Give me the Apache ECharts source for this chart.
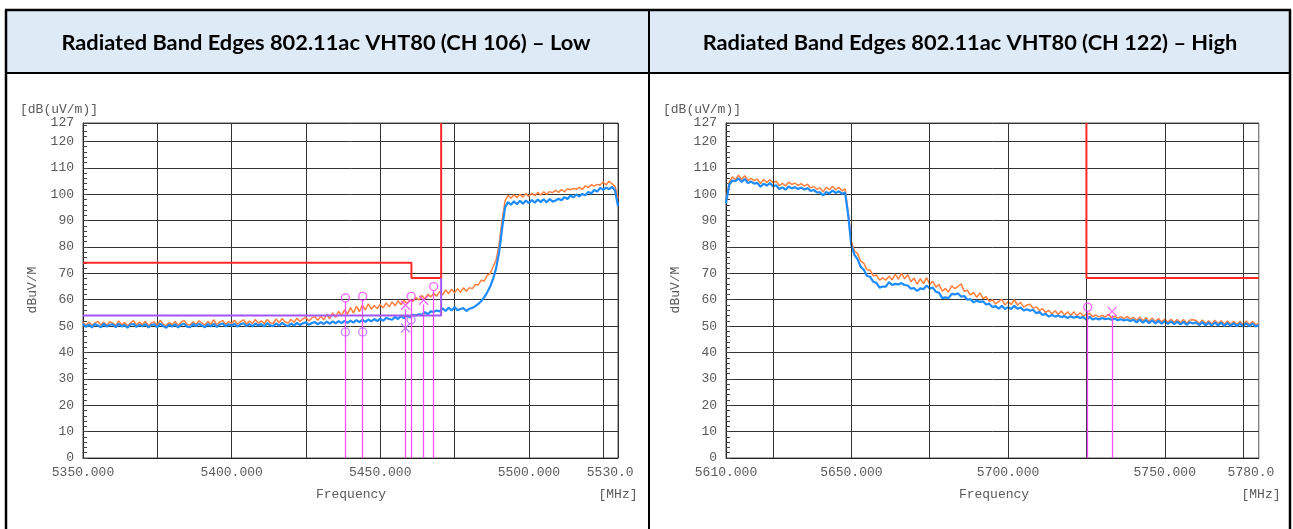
<!DOCTYPE html>
<html>
<head>
<meta charset="utf-8">
<script src="https://cdn.jsdelivr.net/npm/echarts@6/dist/echarts.min.js"></script>
<style>
html,body{margin:0;padding:0;background:#fff;}
#c{width:1293px;height:529px;}
</style>
</head>
<body>
<div id="c"></div>
<script>
// ---------- DATA ----------
const titles = ['Radiated Band Edges 802.11ac VHT80 (CH 106) \u2013 Low', 'Radiated Band Edges 802.11ac VHT80 (CH 122) \u2013 High'];
const lowStart = 5350, highStart = 5610, stepMHz = 1;
const yTicksMax = 127;

// Low band: peak (orange) and average (blue) traces, 1 MHz steps from 5350 MHz
const lowPeak = [
51.3,50.3,51.6,50.2,51.2,51.8,50.4,51.5,50.3,51.7,
51.1,50.2,52.0,50.5,51.4,50.1,51.2,52.1,50.4,51.5,
50.5,51.8,50.2,51.2,51.6,50.3,52.3,50.6,50.2,51.4,
50.5,51.7,50.3,51.4,52.2,50.6,50.4,51.6,50.6,52.0,
51.2,50.4,51.8,50.7,52.4,50.5,51.6,52.1,50.7,51.7,
51.0,52.2,50.7,51.7,52.4,50.8,51.9,51.0,52.5,51.1,
52.0,50.9,52.5,51.3,51.0,52.7,51.3,52.9,51.6,51.2,
52.5,51.4,53.0,51.7,52.8,53.3,51.9,53.1,53.6,52.2,
53.8,52.4,54.4,52.8,55.0,53.3,55.6,54.0,56.2,54.6,
57.0,54.9,57.6,55.5,58.0,56.1,58.4,56.4,57.8,56.7,
58.2,56.9,58.8,57.3,59.2,57.7,59.6,58.2,59.8,58.5,
60.1,59.4,60.8,59.9,61.6,60.3,62.0,61.1,62.4,61.3,
63.2,61.8,63.7,62.3,64.0,62.6,64.2,62.8,64.5,63.2,
64.6,64.2,65.8,65.6,67.4,67.1,69.2,70.0,72.6,75.0,
81.0,90.0,97.5,99.6,98.5,99.8,98.7,100.0,98.9,100.2,
99.2,100.4,99.4,100.7,99.7,100.9,99.9,101.0,100.6,101.5,
100.7,101.8,100.9,102.1,101.7,102.2,101.9,102.6,101.8,103.2,
102.5,103.6,103.1,103.7,103.5,104.6,103.5,104.9,103.9,103.0,
98.5];
const lowAvg = [
50.9,49.7,50.6,49.5,50.8,50.2,49.6,50.9,49.8,50.5,
50.7,49.6,50.9,49.9,50.4,49.4,50.6,50.8,49.7,50.5,
49.9,50.8,49.5,50.4,50.7,49.6,50.9,50.0,49.4,50.6,
49.8,50.7,49.5,50.5,50.9,49.8,49.6,50.8,50.0,50.9,
50.2,49.6,50.8,49.9,50.9,49.7,50.6,51.0,49.9,50.7,
50.1,50.9,49.8,50.7,51.1,50.0,50.8,49.9,51.0,50.2,
50.8,49.9,51.1,50.3,50.0,51.0,50.2,51.2,50.4,50.0,
51.0,50.2,51.2,50.4,51.1,51.4,50.5,51.2,51.5,50.7,
51.5,50.8,51.7,50.9,51.8,51.0,51.9,51.1,52.0,51.2,
52.1,51.3,52.3,51.5,52.4,51.6,52.5,51.8,52.7,51.9,
52.8,52.0,53.1,52.7,52.4,53.5,52.7,53.8,53.0,54.0,
53.3,54.3,54.0,54.5,54.3,55.3,54.5,55.6,55.4,55.9,
55.6,56.8,55.7,57.0,55.9,57.2,56.0,56.5,56.8,55.7,
56.6,56.9,57.6,58.4,59.5,61.0,62.8,65.0,68.0,72.0,
78.0,87.0,95.0,97.0,96.0,97.3,96.2,97.5,96.4,97.6,
96.6,97.8,96.8,98.0,97.0,98.1,96.9,98.2,97.2,97.6,
98.3,97.7,98.9,98.2,99.5,98.8,99.9,99.2,100.1,99.6,
100.9,100.3,101.6,101.0,102.4,101.7,102.5,101.9,102.8,101.5,
95.5];

// High band traces, 1 MHz steps from 5610 MHz
const highPeak = [
97.0,104.5,106.6,105.6,107.2,105.6,107.0,105.2,106.0,105.2,
105.8,104.0,105.6,104.5,105.5,104.4,104.9,103.3,104.1,103.1,
104.6,103.7,104.2,103.3,104.0,103.1,103.8,102.4,103.0,101.9,
102.4,100.9,102.6,101.7,103.0,101.7,102.6,101.3,102.0,93.0,
82.0,78.6,77.4,74.6,73.8,71.4,71.2,69.0,69.4,67.4,
68.3,67.4,68.9,67.5,69.7,67.8,70.0,67.9,69.5,66.8,
68.2,65.9,68.0,66.1,68.4,65.8,67.0,64.8,65.8,63.2,
64.3,62.9,65.3,64.2,65.0,66.0,63.2,63.6,61.8,62.8,
60.9,62.6,60.4,61.2,59.4,60.0,58.4,59.3,60.2,58.0,
59.2,58.2,60.0,58.0,59.0,57.2,58.0,58.3,56.8,57.3,
55.9,56.6,55.2,56.0,54.6,55.8,54.4,55.7,54.2,55.4,
54.1,55.4,53.9,55.1,53.8,54.6,54.8,53.6,54.2,53.5,
54.1,53.4,54.5,53.2,53.8,53.0,53.6,52.8,53.7,52.7,
53.3,52.2,53.4,52.0,53.2,51.8,53.1,51.7,52.9,51.6,
52.7,51.5,52.6,51.4,52.5,51.3,52.5,51.1,52.3,52.4,
52.1,51.0,52.3,50.9,52.0,50.8,52.2,50.9,52.0,50.7,
51.9,50.7,51.8,50.6,51.7,50.5,51.9,50.6,51.7,50.5,
51.0];
const highAvg = [
96.5,103.5,105.2,104.9,106.0,104.6,105.8,104.2,104.8,104.0,
104.3,102.8,104.0,103.3,104.2,103.0,103.4,102.0,102.6,101.7,
102.9,102.2,102.7,102.0,102.5,101.8,102.3,101.2,101.6,100.7,
100.7,99.5,100.8,100.3,101.4,100.5,101.1,100.2,100.6,92.0,
80.5,77.0,75.3,72.4,71.3,69.0,68.7,66.8,66.4,64.6,
65.0,65.0,66.7,65.6,66.0,65.8,66.3,65.6,65.4,64.2,
64.4,63.3,64.3,64.0,65.4,64.3,64.6,63.0,62.6,60.6,
60.9,60.6,62.2,62.0,62.4,61.2,61.4,60.0,60.2,59.0,
59.6,59.2,59.4,58.2,58.5,57.2,57.6,56.6,57.7,56.5,
57.2,56.5,57.7,56.6,57.0,55.9,56.4,55.8,56.2,54.9,
55.4,54.2,54.7,53.6,54.2,53.6,54.0,53.4,53.8,53.1,
53.7,53.2,53.6,53.1,53.4,52.4,53.5,52.5,53.0,52.5,
53.1,52.6,52.9,52.4,52.8,52.2,52.6,52.1,52.5,51.9,
52.4,51.4,52.5,51.3,52.3,51.1,52.2,51.0,52.0,50.9,
51.9,50.8,51.8,50.7,51.7,50.6,51.6,50.5,51.5,51.0,
51.4,50.4,51.5,50.3,51.3,50.2,51.4,50.3,51.3,50.1,
51.2,50.1,51.1,50.0,51.0,49.9,51.1,50.0,51.0,49.9,
50.4];

// Limit lines [MHz, dBuV/m]
const lowPeakLimit = [[5350,74],[5460.5,74],[5460.5,68.2],[5470.5,68.2],[5470.5,127]];
const lowAvgLimit = [[5350,54],[5470.5,54],[5470.5,68.2]];
const highPeakLimit = [[5725,127],[5725,68.2],[5780,68.2]];

// Markers [MHz, dBuV/m]
const lowMarkCircle = [[5438.3,60.7],[5444.1,61.3],[5460.4,61.3],[5468.0,65.0]];
const lowMarkCross = [[5458.5,57.9],[5464.6,59.8]];
const lowMarkCircleLow = [[5438.3,47.8],[5444.1,47.8],[5460.4,52.4]];
const lowMarkCrossLow = [[5458.5,49.3]];
const highMarkCircle = [[5725.4,57.2]];
const highMarkCross = [[5733.2,55.6]];

const highGridLines = [5625,5650,5675,5700,5725,5750,5775];

// ---------- BUILD ----------
const toPairs = (arr, start) => arr.map((v, i) => [start + i * stepMHz, v]);
const MONO = "'Liberation Mono', 'DejaVu Sans Mono', monospace";
const LABEL_COLOR = '#5a5a5a';
const GRID_COLOR = '#333';
const crossPath = 'path://M0,0L10,10M10,0L0,10';

function yAxisFor(gi) {
  return {
    type: 'value', gridIndex: gi, min: 0, max: yTicksMax, interval: 10,
    axisLine: {show: true, lineStyle: {color: '#222', width: 1}},
    axisTick: {show: true, inside: true, length: 5, lineStyle: {color: '#444'}},
    minorTick: {show: true, splitNumber: 5, length: 4, lineStyle: {color: '#444'}},
    splitLine: {show: true, lineStyle: {color: GRID_COLOR, width: 1}},
    axisLabel: {fontFamily: MONO, fontSize: 13, color: LABEL_COLOR, margin: 9}
  };
}

const option = {
  animation: false,
  backgroundColor: '#fff',
  grid: [
    {left: 83, top: 123, width: 535, height: 335, show: true, borderColor: '#555', borderWidth: 1},
    {left: 726, top: 123, width: 536, height: 335, show: true, borderColor: '#555', borderWidth: 1}
  ],
  xAxis: [
    {type: 'value', gridIndex: 0, min: 5350, max: 5530, interval: 25,
     axisLine: {lineStyle: {color: '#222'}}, axisTick: {show: false},
     splitLine: {show: true, lineStyle: {color: GRID_COLOR, width: 1}},
     axisLabel: {fontFamily: MONO, fontSize: 13, color: LABEL_COLOR, margin: 8,
       formatter: v => v === 5530 ? '5530.0  ' : ((v - 5350) % 50 === 0 ? v.toFixed(3) : '')}},
    {type: 'value', gridIndex: 1, min: 5610, max: 5780, interval: 10,
     axisLine: {lineStyle: {color: '#222'}}, axisTick: {show: false},
     splitLine: {show: false},
     axisLabel: {fontFamily: MONO, fontSize: 13, color: LABEL_COLOR, margin: 8,
       formatter: v => v === 5610 ? '5610.000' : (v === 5780 ? '5780.0  ' : (v % 50 === 0 ? v.toFixed(3) : ''))}}
  ],
  yAxis: [yAxisFor(0), yAxisFor(1)],
  series: [
    // grid verticals for the high chart
    {type: 'line', xAxisIndex: 1, yAxisIndex: 1, data: [[5610, 0]], symbol: 'none', lineStyle: {opacity: 0}, z: 1,
     markLine: {silent: true, symbol: ['none', 'none'], label: {show: false}, animation: false,
       lineStyle: {color: GRID_COLOR, width: 1, type: 'solid'},
       data: highGridLines.map(v => ({xAxis: v}))}},
    // low chart traces
    {type: 'line', xAxisIndex: 0, yAxisIndex: 0, data: toPairs(lowPeak, lowStart), symbol: 'none',
     lineStyle: {color: '#ff7f3f', width: 1.5}, z: 3},
    {type: 'line', xAxisIndex: 0, yAxisIndex: 0, data: toPairs(lowAvg, lowStart), symbol: 'none',
     lineStyle: {color: '#1e8cff', width: 2.2}, z: 4},
    {type: 'line', xAxisIndex: 0, yAxisIndex: 0, data: lowPeakLimit, symbol: 'none',
     lineStyle: {color: '#ff2a2a', width: 2}, z: 5},
    {type: 'line', xAxisIndex: 0, yAxisIndex: 0, data: lowAvgLimit, symbol: 'none',
     lineStyle: {color: '#a355f5', width: 2}, z: 5},
    {type: 'scatter', xAxisIndex: 0, yAxisIndex: 0, data: lowMarkCircle, symbol: 'circle', symbolSize: 8,
     itemStyle: {color: 'rgba(0,0,0,0)', borderColor: '#ff3cff', borderWidth: 1.3}, z: 7,
     markLine: {silent: true, symbol: ['none', 'none'], label: {show: false}, animation: false,
       lineStyle: {color: '#ff4cff', width: 1.3, type: 'solid'},
       data: lowMarkCircle.concat(lowMarkCross).map(p => [{coord: [p[0], 0]}, {coord: [p[0], p[1] - 1.5]}])}},
    {type: 'scatter', xAxisIndex: 0, yAxisIndex: 0, data: lowMarkCross, symbol: crossPath, symbolSize: 9,
     itemStyle: {color: 'rgba(0,0,0,0)', borderColor: '#ff3cff', borderWidth: 1.3}, z: 7},
    {type: 'scatter', xAxisIndex: 0, yAxisIndex: 0, data: lowMarkCircleLow, symbol: 'circle', symbolSize: 8,
     itemStyle: {color: 'rgba(0,0,0,0)', borderColor: '#b266ff', borderWidth: 1.3}, z: 7},
    {type: 'scatter', xAxisIndex: 0, yAxisIndex: 0, data: lowMarkCrossLow, symbol: crossPath, symbolSize: 9,
     itemStyle: {color: 'rgba(0,0,0,0)', borderColor: '#b266ff', borderWidth: 1.3}, z: 7},
    // high chart traces
    {type: 'line', xAxisIndex: 1, yAxisIndex: 1, data: toPairs(highPeak, highStart), symbol: 'none',
     lineStyle: {color: '#ff7f3f', width: 1.5}, z: 3},
    {type: 'line', xAxisIndex: 1, yAxisIndex: 1, data: toPairs(highAvg, highStart), symbol: 'none',
     lineStyle: {color: '#1e8cff', width: 2.2}, z: 4},
    {type: 'line', xAxisIndex: 1, yAxisIndex: 1, data: highPeakLimit, symbol: 'none',
     lineStyle: {color: '#ff2a2a', width: 2}, z: 5},
    {type: 'scatter', xAxisIndex: 1, yAxisIndex: 1, data: highMarkCircle, symbol: 'circle', symbolSize: 8,
     itemStyle: {color: 'rgba(0,0,0,0)', borderColor: '#ff3cff', borderWidth: 1.3}, z: 7,
     markLine: {silent: true, symbol: ['none', 'none'], label: {show: false}, animation: false,
       lineStyle: {color: '#ff4cff', width: 1.3, type: 'solid'},
       data: highMarkCircle.concat(highMarkCross).map(p => [{coord: [p[0], 0]}, {coord: [p[0], p[1] - 1.5]}])}},
    {type: 'scatter', xAxisIndex: 1, yAxisIndex: 1, data: highMarkCross, symbol: crossPath, symbolSize: 9,
     itemStyle: {color: 'rgba(0,0,0,0)', borderColor: '#ff3cff', borderWidth: 1.3}, z: 7}
  ],
  graphic: [
    {type: 'rect', z: -10, shape: {x: 6, y: 10, width: 1284, height: 63}, style: {fill: '#deeaf6'}},
    {type: 'line', z: 100, shape: {x1: 5, y1: 10, x2: 1291, y2: 10}, style: {stroke: '#000', lineWidth: 2.5}},
    {type: 'line', z: 100, shape: {x1: 6, y1: 10, x2: 6, y2: 529}, style: {stroke: '#000', lineWidth: 2.5}},
    {type: 'line', z: 100, shape: {x1: 1290, y1: 10, x2: 1290, y2: 529}, style: {stroke: '#000', lineWidth: 2.5}},
    {type: 'line', z: 100, shape: {x1: 649, y1: 10, x2: 649, y2: 529}, style: {stroke: '#000', lineWidth: 2}},
    {type: 'line', z: 100, shape: {x1: 6, y1: 73, x2: 1290, y2: 73}, style: {stroke: '#000', lineWidth: 2}},
    {type: 'text', z: 100, x: 326, y: 43, style: {text: titles[0], font: 'bold 21.8px Lato', fill: '#000',
      align: 'center', verticalAlign: 'middle', textAlign: 'center', textVerticalAlign: 'middle'}},
    {type: 'text', z: 100, x: 970, y: 43, style: {text: titles[1], font: 'bold 21.8px Lato', fill: '#000',
      align: 'center', verticalAlign: 'middle', textAlign: 'center', textVerticalAlign: 'middle'}},
    // left chart texts
    {type: 'text', x: 20, y: 110, style: {text: '[dB(uV/m)]', font: "13px 'Liberation Mono'", fill: LABEL_COLOR,
      align: 'left', verticalAlign: 'middle', textAlign: 'left', textVerticalAlign: 'middle'}},
    {type: 'text', x: 33, y: 290, rotation: Math.PI / 2, style: {text: 'dBuV/M', font: "13px 'Liberation Mono'", fill: LABEL_COLOR,
      align: 'center', verticalAlign: 'middle', textAlign: 'center', textVerticalAlign: 'middle'}},
    {type: 'text', x: 351, y: 495, style: {text: 'Frequency', font: "13px 'Liberation Mono'", fill: LABEL_COLOR,
      align: 'center', verticalAlign: 'middle', textAlign: 'center', textVerticalAlign: 'middle'}},
    {type: 'text', x: 618, y: 495, style: {text: '[MHz]', font: "13px 'Liberation Mono'", fill: LABEL_COLOR,
      align: 'center', verticalAlign: 'middle', textAlign: 'center', textVerticalAlign: 'middle'}},
    // right chart texts
    {type: 'text', x: 663, y: 110, style: {text: '[dB(uV/m)]', font: "13px 'Liberation Mono'", fill: LABEL_COLOR,
      align: 'left', verticalAlign: 'middle', textAlign: 'left', textVerticalAlign: 'middle'}},
    {type: 'text', x: 676, y: 290, rotation: Math.PI / 2, style: {text: 'dBuV/M', font: "13px 'Liberation Mono'", fill: LABEL_COLOR,
      align: 'center', verticalAlign: 'middle', textAlign: 'center', textVerticalAlign: 'middle'}},
    {type: 'text', x: 994, y: 495, style: {text: 'Frequency', font: "13px 'Liberation Mono'", fill: LABEL_COLOR,
      align: 'center', verticalAlign: 'middle', textAlign: 'center', textVerticalAlign: 'middle'}},
    {type: 'text', x: 1261, y: 495, style: {text: '[MHz]', font: "13px 'Liberation Mono'", fill: LABEL_COLOR,
      align: 'center', verticalAlign: 'middle', textAlign: 'center', textVerticalAlign: 'middle'}}
  ]
};

const chart = echarts.init(document.getElementById('c'), null, {renderer: 'canvas'});
chart.setOption(option);
</script>
</body>
</html>
